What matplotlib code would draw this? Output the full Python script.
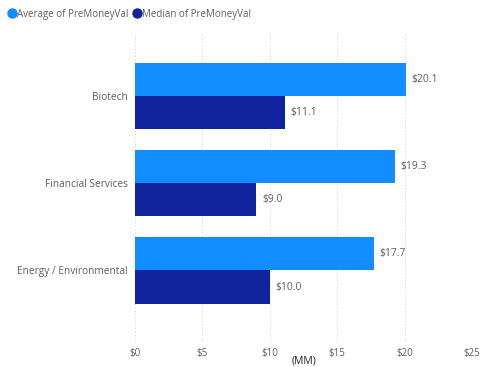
import matplotlib.pyplot as plt
from matplotlib.lines import Line2D
import numpy as np

# データ
categories = ["Biotech", "Financial Services", "Energy / Environmental"]
avg_vals = [20.1, 19.3, 17.7]
median_vals = [11.1, 9.0, 10.0]
xticks = [0, 5, 10, 15, 20, 25]

avg_color = "#118DFF"
med_color = "#12239E"
text_color = "#605E5C"

plt.rcParams["font.family"] = ["Open Sans", "DejaVu Sans"]

fig = plt.figure(figsize=(4.81, 3.67), dpi=100)
ax = fig.add_axes([0.2807, 0.0681, 0.7006, 0.8420])

y = np.arange(len(categories))
h = 0.38
ax.barh(y - h / 2, avg_vals, height=h, color=avg_color, zorder=3)
ax.barh(y + h / 2, median_vals, height=h, color=med_color, zorder=3)

# データラベル
for yi, v in zip(y, avg_vals):
    ax.annotate(f"${v:.1f}", (v, yi - h / 2), xytext=(4, 0), textcoords="offset points",
                va="center", ha="left", fontsize=7.5, color=text_color)
for yi, v in zip(y, median_vals):
    ax.annotate(f"${v:.1f}", (v, yi + h / 2), xytext=(4, 0), textcoords="offset points",
                va="center", ha="left", fontsize=7.5, color=text_color)

ax.set_ylim(2.82, -0.72)
ax.set_xlim(0, 25)
ax.set_yticks(y)
ax.set_yticklabels(categories, fontsize=7.3, color=text_color)
ax.set_xticks(xticks)
ax.set_xticklabels([f"${t}" for t in xticks], fontsize=7, color=text_color)
ax.tick_params(length=0)
ax.tick_params(axis="x", pad=4)
ax.tick_params(axis="y", pad=5)

for s in ax.spines.values():
    s.set_visible(False)
ax.grid(axis="x", linestyle=(0, (1, 2.5)), color="#D2D0CE", linewidth=0.7, zorder=0)

fig.text(0.631, 0.002, "(MM)", ha="center", va="bottom", fontsize=7.5, color="#252423")

handles = [Line2D([], [], marker="o", linestyle="", color=avg_color, markersize=6.5),
           Line2D([], [], marker="o", linestyle="", color=med_color, markersize=6.5)]
fig.legend(handles, ["Average of PreMoneyVal", "Median of PreMoneyVal"],
           loc="upper left", bbox_to_anchor=(0.0, 0.995), ncol=2, frameon=False,
           fontsize=7, labelcolor=text_color, handletextpad=0.0, columnspacing=0.4,
           borderaxespad=0.3, handlelength=1.0)

fig.savefig("out.png", dpi=100)
